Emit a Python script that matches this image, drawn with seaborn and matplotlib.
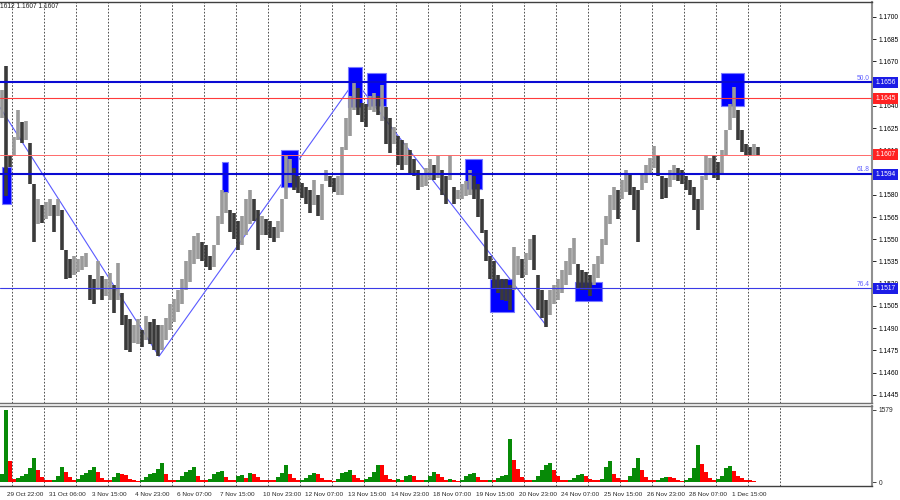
import numpy as np
import matplotlib
matplotlib.use('Agg')
import matplotlib.pyplot as plt
import matplotlib.transforms as mtransforms
from matplotlib.patches import Rectangle
import seaborn as sns

# ── Data (one value per 3 hours) ─────────────────────────────
hi = [1.1651, 1.1667, 1.1607, 1.1619, 1.1637, 1.1629, 1.1630, 1.1615, 1.1587, 1.1577,
      1.1573, 1.1575, 1.1577, 1.1573, 1.1577, 1.1570, 1.1543, 1.1537, 1.1539, 1.1537,
      1.1539, 1.1541, 1.1526, 1.1523, 1.1535, 1.1525, 1.1523, 1.1527, 1.1519, 1.1534,
      1.1514, 1.1499, 1.1496, 1.1492, 1.1496, 1.1489, 1.1498, 1.1494, 1.1496, 1.1492,
      1.1492, 1.1497, 1.1506, 1.1510, 1.1516, 1.1523, 1.1535, 1.1543, 1.1552, 1.1554,
      1.1548, 1.1546, 1.1539, 1.1546, 1.1566, 1.1583, 1.1582, 1.1570, 1.1568, 1.1562,
      1.1566, 1.1577, 1.1583, 1.1577, 1.1570, 1.1566, 1.1564, 1.1562, 1.1558, 1.1562,
      1.1577, 1.1606, 1.1604, 1.1598, 1.1593, 1.1588, 1.1585, 1.1583, 1.1590, 1.1580,
      1.1587, 1.1597, 1.1593, 1.1591, 1.1593, 1.1612, 1.1632, 1.1647, 1.1656, 1.1652,
      1.1642, 1.1641, 1.1647, 1.1649, 1.1647, 1.1654, 1.1639, 1.1632, 1.1626, 1.1620,
      1.1617, 1.1615, 1.1610, 1.1604, 1.1597, 1.1595, 1.1598, 1.1604, 1.1600, 1.1606,
      1.1597, 1.1593, 1.1607, 1.1585, 1.1583, 1.1587, 1.1589, 1.1597, 1.1593, 1.1587,
      1.1577, 1.1556, 1.1539, 1.1535, 1.1526, 1.1523, 1.1523, 1.1519, 1.1545, 1.1539,
      1.1537, 1.1541, 1.1550, 1.1553, 1.1526, 1.1516, 1.1509, 1.1516, 1.1519, 1.1523,
      1.1529, 1.1535, 1.1544, 1.1551, 1.1533, 1.1529, 1.1528, 1.1526, 1.1533, 1.1539,
      1.1550, 1.1566, 1.1580, 1.1585, 1.1583, 1.1590, 1.1597, 1.1595, 1.1585, 1.1583,
      1.1595, 1.1600, 1.1605, 1.1613, 1.1607, 1.1593, 1.1591, 1.1597, 1.1600, 1.1598,
      1.1597, 1.1593, 1.1590, 1.1585, 1.1577, 1.1593, 1.1607, 1.1605, 1.1607, 1.1602,
      1.1610, 1.1624, 1.1641, 1.1653, 1.1637, 1.1624, 1.1614, 1.1612, 1.1614, 1.1612]

lo = [1.1632, 1.1579, 1.1599, 1.1606, 1.1617, 1.1615, 1.1617, 1.1587, 1.1548, 1.1560,
      1.1561, 1.1564, 1.1566, 1.1555, 1.1566, 1.1543, 1.1523, 1.1524, 1.1526, 1.1528,
      1.1529, 1.1531, 1.1509, 1.1506, 1.1516, 1.1509, 1.1512, 1.1509, 1.1500, 1.1509,
      1.1492, 1.1475, 1.1474, 1.1480, 1.1479, 1.1477, 1.1482, 1.1479, 1.1475, 1.1471,
      1.1475, 1.1482, 1.1489, 1.1494, 1.1501, 1.1506, 1.1516, 1.1521, 1.1533, 1.1537,
      1.1535, 1.1531, 1.1529, 1.1531, 1.1546, 1.1560, 1.1568, 1.1555, 1.1550, 1.1543,
      1.1546, 1.1553, 1.1560, 1.1562, 1.1543, 1.1553, 1.1553, 1.1551, 1.1548, 1.1551,
      1.1555, 1.1577, 1.1588, 1.1583, 1.1581, 1.1578, 1.1574, 1.1568, 1.1573, 1.1566,
      1.1563, 1.1589, 1.1585, 1.1582, 1.1580, 1.1580, 1.1610, 1.1620, 1.1637, 1.1634,
      1.1629, 1.1626, 1.1637, 1.1636, 1.1634, 1.1630, 1.1614, 1.1608, 1.1614, 1.1600,
      1.1597, 1.1600, 1.1595, 1.1593, 1.1583, 1.1585, 1.1586, 1.1590, 1.1590, 1.1591,
      1.1580, 1.1574, 1.1590, 1.1574, 1.1577, 1.1577, 1.1579, 1.1580, 1.1577, 1.1565,
      1.1554, 1.1535, 1.1523, 1.1517, 1.1514, 1.1509, 1.1508, 1.1502, 1.1516, 1.1526,
      1.1524, 1.1526, 1.1536, 1.1529, 1.1502, 1.1497, 1.1491, 1.1499, 1.1506, 1.1509,
      1.1514, 1.1519, 1.1526, 1.1533, 1.1517, 1.1516, 1.1516, 1.1512, 1.1519, 1.1524,
      1.1533, 1.1546, 1.1560, 1.1570, 1.1564, 1.1577, 1.1582, 1.1580, 1.1570, 1.1548,
      1.1583, 1.1588, 1.1595, 1.1598, 1.1593, 1.1577, 1.1578, 1.1585, 1.1590, 1.1589,
      1.1587, 1.1583, 1.1580, 1.1570, 1.1556, 1.1570, 1.1590, 1.1595, 1.1591, 1.1590,
      1.1595, 1.1607, 1.1624, 1.1632, 1.1617, 1.1609, 1.1606, 1.1606, 1.1607, 1.1607]

vol = [190, 1579, 470, 80, 90, 150, 190, 320, 540, 280,
       120, 60, 50, 60, 140, 330, 220, 110, 60, 80,
       170, 200, 280, 340, 220, 100, 60, 50, 120, 200,
       190, 160, 80, 50, 40, 60, 110, 190, 200, 300,
       430, 180, 60, 50, 60, 140, 220, 270, 330, 150,
       60, 50, 80, 180, 230, 250, 120, 60, 50, 140,
       160, 90, 200, 180, 110, 60, 50, 50, 50, 120,
       200, 370, 190, 100, 50, 60, 100, 170, 200, 180,
       90, 50, 50, 40, 80, 200, 230, 260, 170, 90,
       60, 80, 120, 230, 380, 370, 160, 70, 50, 70,
       60, 130, 170, 150, 60, 50, 60, 150, 230, 190,
       110, 60, 70, 50, 40, 60, 130, 180, 200, 120,
       60, 50, 60, 60, 90, 150, 160, 950, 480, 300,
       120, 60, 50, 60, 140, 280, 380, 420, 260, 150,
       60, 50, 60, 100, 170, 190, 140, 80, 50, 50,
       70, 330, 470, 180, 100, 60, 60, 140, 320, 540,
       260, 120, 60, 50, 60, 90, 120, 120, 90, 60,
       40, 50, 90, 310, 810, 400, 220, 100, 60, 80,
       130, 310, 360, 250, 150, 90, 60, 50, 40, 15]

time_labels = ['29 Oct 22:00', '31 Oct 06:00', '3 Nov 15:00', '4 Nov 23:00',
               '6 Nov 07:00', '7 Nov 15:00', '10 Nov 23:00', '12 Nov 07:00',
               '13 Nov 15:00', '14 Nov 23:00', '18 Nov 07:00', '19 Nov 15:00',
               '20 Nov 23:00', '24 Nov 07:00', '25 Nov 15:00', '26 Nov 23:00',
               '28 Nov 07:00', '1 Dec 15:00']

# right-axis price ticks (the ones hidden under the level tags are left out)
price_ticks = [1.1445, 1.1460, 1.1475, 1.1490, 1.1505, 1.1520, 1.1535, 1.1550,
               1.1565, 1.1580, 1.1610, 1.1625, 1.1640, 1.1670, 1.1685, 1.1700]

# horizontal levels
level_price = [1.1656, 1.1645, 1.1607, 1.1594, 1.1517]
level_color = ['#0a0ad2', '#ff3b3b', '#ff6a6a', '#0a0ad2', '#3a3ae6']
level_width = [1.5, 0.8, 0.7, 1.5, 0.8]
label_bg = ['#1c1ce6', '#ff2222', '#ff2222', '#1c1ce6', '#1c1ce6']

fib_price = [1.1656, 1.1594, 1.1517]
fib_text = ['50.0', '61.8', '76.4']

# zigzag (bar index, price)
zz_bar = [-0.5, 39.25, 88.25, 136.0]
zz_price = [1.1639, 1.1471, 1.1657, 1.1492]

# blue boxes: bar from/to, price top/bottom
box_b0 = [0.0, 55.1, 69.75, 86.5, 91.25, 115.75, 122.0, 143.25, 179.75]
box_b1 = [2.25, 56.6, 74.0, 90.0, 96.0, 120.0, 128.0, 150.0, 185.5]
box_top = [1.1599, 1.1602, 1.1610, 1.1666, 1.1662, 1.1604, 1.1523, 1.1521, 1.1662]
box_bot = [1.1574, 1.1582, 1.1585, 1.1639, 1.1640, 1.1584, 1.1501, 1.1508, 1.1640]

# ── Style ─────────────────────────────────────────────────────
sns.set_style('white')
plt.rcParams['font.family'] = ['Liberation Sans', 'DejaVu Sans']

n = len(hi)
bars = np.arange(n)
mid = (np.array(hi) + np.array(lo)) / 2
up = np.r_[True, mid[1:] >= mid[:-1]]
bar_cols = np.where(up, '#9a9a9a', '#3a3a3a')

vol_up = np.r_[True, np.array(vol[1:]) > np.array(vol[:-1])]
vol_cols = np.where(vol_up, '#078a07', '#ff0000')

XMIN, XMAX = -0.5, 217.5
grid_pos = 2.375 + 8 * np.arange(25)
tick_pos = 1.17 + 32 / 3 * np.arange(len(time_labels))

fig = plt.figure(figsize=(9, 5), dpi=100)
ax = fig.add_axes([0, 0.194, 872 / 900, 0.802])
axv = fig.add_axes([0, 0.028, 872 / 900, 0.16])

# ── Price panel ───────────────────────────────────────────────
for gx in grid_pos:
    ax.axvline(gx, color='#333333', lw=0.6, ls=(0, (2, 2)), zorder=0.5)
    axv.axvline(gx, color='#333333', lw=0.6, ls=(0, (2, 2)), zorder=0.5)

sns.lineplot(x=zz_bar, y=zz_price, ax=ax, color='#5a5aff', lw=0.8,
             sort=False, estimator=None, zorder=1.5)

for b0, b1, t, b in zip(box_b0, box_b1, box_top, box_bot):
    ax.add_patch(Rectangle((b0, b), b1 - b0, t - b, fc='#0000ff',
                           ec='#7a7aff', lw=0.8, zorder=2))

ax.vlines(bars, lo, hi, colors=bar_cols, lw=2.6, zorder=3)

for p, c, w in zip(level_price, level_color, level_width):
    ax.axhline(p, color=c, lw=w, zorder=4)

ax.set_xlim(XMIN, XMAX)
ax.set_ylim(1.14395, 1.17101)
ax.set_xticks([])
ax.set_yticks(price_ticks)
ax.set_yticklabels([f'{v:.4f}' for v in price_ticks])
ax.yaxis.tick_right()
ax.tick_params(axis='y', length=3, width=0.6, labelsize=4.8, pad=2,
               colors='#000000')

trans = mtransforms.blended_transform_factory(ax.transAxes, ax.transData)
for p, c in zip(level_price, label_bg):
    ax.text(1.004, p, f'{p:.4f}', transform=trans, ha='left', va='center',
            fontsize=4.8, color='white', clip_on=False, zorder=6,
            bbox=dict(boxstyle='square,pad=0.3', fc=c, ec='none'))

for p, t in zip(fib_price, fib_text):
    ax.text(XMAX - 0.6, p + 0.00004, t, ha='right', va='bottom',
            fontsize=4.8, color='#6060ff', zorder=5)

fig.text(0.0, 1 - 6 / 500, '1612 1.1607 1.1607', fontsize=4.8,
         ha='left', va='center', color='#202020')

ax.spines['left'].set_visible(False)
ax.spines['top'].set_color('#404040')
ax.spines['top'].set_linewidth(1)
ax.spines['bottom'].set_color('#707070')
ax.spines['bottom'].set_linewidth(1)
ax.spines['right'].set_color('#909090')
ax.spines['right'].set_linewidth(1.5)

# ── Volume panel ──────────────────────────────────────────────
axv.bar(bars, vol, width=1.0, color=vol_cols, linewidth=0, zorder=2)
axv.set_xlim(XMIN, XMAX)
axv.set_ylim(-76, 1655)
axv.set_yticks([0, 1579])
axv.set_yticklabels(['0', '1579'])
axv.yaxis.tick_right()
axv.tick_params(axis='y', length=3, width=0.6, labelsize=4.8, pad=2)
axv.set_xticks(tick_pos)
axv.set_xticklabels(time_labels)
for t in axv.get_xticklabels():
    t.set_ha('left')
axv.tick_params(axis='x', length=3, width=0.6, labelsize=4.6, pad=1.5)
axv.spines['left'].set_visible(False)
axv.spines['top'].set_color('#707070')
axv.spines['top'].set_linewidth(1)
axv.spines['bottom'].set_color('#404040')
axv.spines['bottom'].set_linewidth(1)
axv.spines['right'].set_color('#909090')
axv.spines['right'].set_linewidth(1.5)

fig.savefig('out.png', dpi=100, facecolor='white')
